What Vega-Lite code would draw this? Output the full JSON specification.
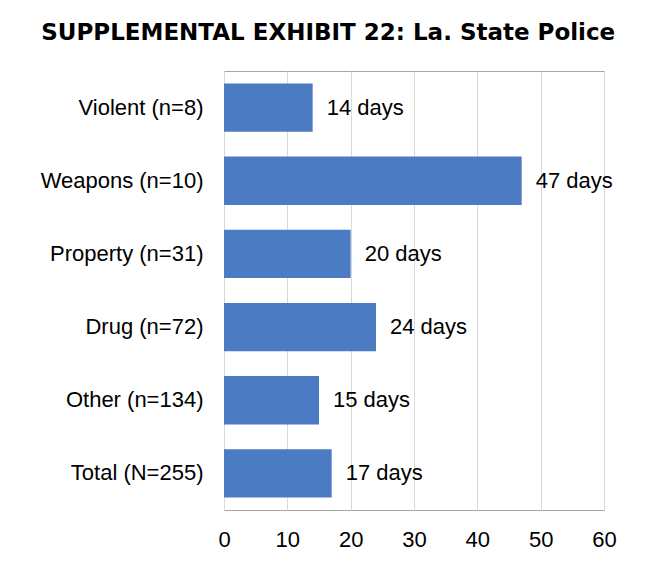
{
  "$schema": "https://vega.github.io/schema/vega-lite/v6.json",
  "autosize": "none",
  "padding": {"left": 224, "top": 71, "right": 41, "bottom": 51},
  "width": 380,
  "height": 439,
  "background": "white",
  "title": {
    "text": "SUPPLEMENTAL EXHIBIT 22: La. State Police",
    "font": "DejaVu Sans",
    "fontSize": 23,
    "fontWeight": "bold",
    "color": "black",
    "anchor": "middle",
    "frame": "bounds",
    "offset": 26
  },
  "data": {
    "values": [
      {"category": "Violent (n=8)", "days": 14, "label": "14 days"},
      {"category": "Weapons (n=10)", "days": 47, "label": "47 days"},
      {"category": "Property (n=31)", "days": 20, "label": "20 days"},
      {"category": "Drug (n=72)", "days": 24, "label": "24 days"},
      {"category": "Other (n=134)", "days": 15, "label": "15 days"},
      {"category": "Total (N=255)", "days": 17, "label": "17 days"}
    ]
  },
  "encoding": {
    "y": {
      "field": "category",
      "type": "nominal",
      "sort": null,
      "title": null,
      "scale": {"paddingInner": 0.34, "paddingOuter": 0.17},
      "axis": {"domain": false, "ticks": false, "labelPadding": 21, "labelFont": "Liberation Sans", "labelFontSize": 22, "labelColor": "black"}
    },
    "x": {
      "field": "days",
      "type": "quantitative",
      "title": null,
      "scale": {"domain": [0, 60], "nice": false},
      "axis": {"values": [0, 10, 20, 30, 40, 50, 60], "domain": false, "ticks": false, "grid": true, "gridColor": "#d9d9d9", "gridWidth": 1, "labelPadding": 19, "labelFont": "Liberation Sans", "labelFontSize": 22, "labelColor": "black", "labelFlush": false}
    }
  },
  "layer": [
    {"mark": {"type": "bar", "color": "#4a7bc3"}},
    {
      "mark": {"type": "text", "align": "left", "baseline": "middle", "dx": 14, "font": "Liberation Sans", "fontSize": 22, "color": "black"},
      "encoding": {"text": {"field": "label"}}
    }
  ],
  "config": {
    "view": {"stroke": "#a6a6a6", "strokeWidth": 1}
  }
}
